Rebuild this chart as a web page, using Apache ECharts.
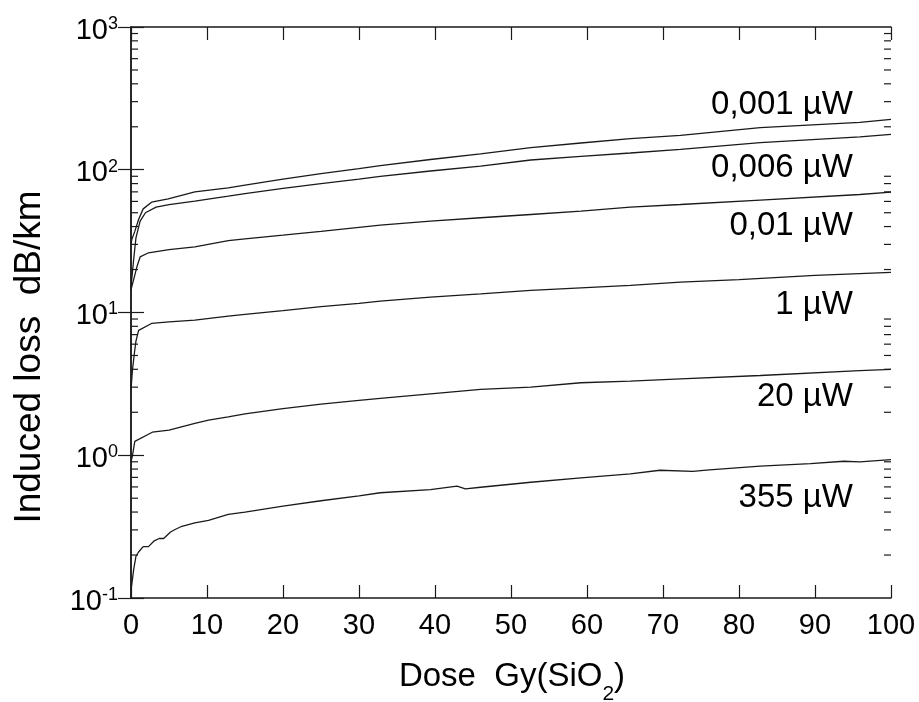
<!DOCTYPE html>
<html>
<head>
<meta charset="utf-8">
<script src="https://cdn.jsdelivr.net/npm/echarts@6/dist/echarts.min.js"></script>
<style>
html,body{margin:0;padding:0;background:#fff;}
#chart{width:919px;height:702px;}
</style>
</head>
<body>
<div id="chart"></div>
<script>
// ---- data (dose in Gy(SiO2), induced loss in dB/km) ----
const seriesNames = ['0,001 µW', '0,006 µW', '0,01 µW', '1 µW', '20 µW', '355 µW'];

const doseA = [0, 0.1, 0.5, 1.0, 1.6, 2.7, 4.9, 8.4, 12.8, 15, 20, 25, 30, 32.8, 39.4, 46, 52.6, 59.2, 65.7, 72.3, 82.8, 95.9, 100];
const lossA = [30, 32.4, 37, 44.8, 53.2, 59.3, 62.5, 70, 74.7, 78, 86, 94, 102, 107, 118, 129, 143, 154, 165, 174, 197, 215, 225];

const doseB = [0, 0.35, 0.65, 1.2, 1.9, 3.3, 5, 8.4, 12.8, 15, 20, 25, 30, 32.8, 39.4, 46, 52.6, 59.2, 65.7, 72.3, 82.8, 95.9, 100];
const lossB = [15, 23.5, 33.3, 43.6, 50, 54.7, 57, 60.3, 65.3, 68, 74, 80, 86, 90, 98, 106, 117, 124, 131, 139, 155, 170, 177];

const doseC = [0, 0.35, 0.8, 1.2, 2.3, 5, 8.4, 12.8, 15, 20, 25, 30, 32.8, 39.4, 46, 52.6, 59.2, 65.7, 72.3, 82.8, 95.9, 100];
const lossC = [14.5, 17, 21.1, 24.5, 26.2, 27.6, 28.8, 31.9, 32.8, 34.8, 37, 39.5, 40.9, 43.6, 46.1, 48.6, 51.3, 54.7, 57.1, 61.2, 67.1, 69.6];

const doseD = [0, 0.2, 0.45, 0.65, 1.0, 2.7, 5, 8.4, 12.8, 15, 20, 25, 30, 32.8, 39.4, 46, 52.6, 59.2, 65.7, 72.3, 80, 90, 100];
const lossD = [2.9, 4.0, 5.2, 6.3, 7.5, 8.38, 8.6, 8.83, 9.42, 9.7, 10.3, 11.0, 11.6, 12.0, 12.8, 13.5, 14.3, 14.9, 15.5, 16.3, 17.0, 18.2, 19.1];

const doseE = [0, 0.2, 0.5, 0.65, 2.8, 5.0, 8.4, 10.2, 12.8, 15, 20, 25, 30, 32.8, 39.4, 46, 52.6, 59.2, 65.7, 72.3, 82.8, 95.9, 100];
const lossE = [0.9, 1.0, 1.25, 1.29, 1.45, 1.50, 1.67, 1.76, 1.86, 1.95, 2.12, 2.28, 2.42, 2.50, 2.69, 2.89, 3.0, 3.22, 3.31, 3.43, 3.62, 3.91, 3.99];

const doseF = [0, 0.1, 0.35, 0.65, 1.0, 1.6, 2.3, 3.0, 3.7, 4.3, 5.2, 5.8, 6.7, 8.4, 10.2, 12.8, 15, 20, 25, 30, 32.8, 39.4, 42.9, 44.0, 46, 52.6, 59.2, 65.7, 69.6, 73.9, 76.1, 82.8, 89.4, 93.8, 95.9, 100];
const lossF = [0.115, 0.124, 0.158, 0.196, 0.21, 0.229, 0.229, 0.25, 0.261, 0.261, 0.29, 0.302, 0.318, 0.336, 0.35, 0.385, 0.40, 0.44, 0.48, 0.52, 0.546, 0.575, 0.607, 0.582, 0.597, 0.647, 0.695, 0.741, 0.785, 0.77, 0.79, 0.838, 0.875, 0.908, 0.9, 0.933];

const doses = [doseA, doseB, doseC, doseD, doseE, doseF];
const losses = [lossA, lossB, lossC, lossD, lossE, lossF];

const xTicks = [0, 10, 20, 30, 40, 50, 60, 70, 80, 90, 100];
const yMinorTicks = [0.2,0.3,0.4,0.5,0.6,0.7,0.8,0.9, 2,3,4,5,6,7,8,9, 20,30,40,50,60,70,80,90, 200,300,400,500,600,700,800,900];

// label anchor rows (pixel centers of the curve labels)
const labelY = [105, 168, 226, 305, 397, 498];

const FONT = '"Liberation Sans", Arial, Helvetica, sans-serif';
const INK = '#1a1a1a';

const chart = echarts.init(document.getElementById('chart'), null, {renderer: 'canvas'});

const lineSeries = doses.map((d, i) => ({
  name: seriesNames[i],
  type: 'line',
  xAxisIndex: 0,
  yAxisIndex: 0,
  data: d.map((x, j) => [x, losses[i][j]]),
  showSymbol: false,
  symbol: 'none',
  smooth: false,
  lineStyle: {color: INK, width: 1.3},
  silent: true,
  animation: false,
  z: 3
}));

const minorSeries = {
  type: 'custom',
  xAxisIndex: 0,
  yAxisIndex: 0,
  silent: true,
  animation: false,
  clip: false,
  data: yMinorTicks.map(v => [0, v]),
  renderItem: function (params, api) {
    const p = api.coord([0, api.value(1)]);
    const cs = params.coordSys;
    const st = {stroke: INK, lineWidth: 1.2};
    return {
      type: 'group',
      children: [
        {type: 'line', shape: {x1: cs.x, y1: p[1], x2: cs.x + 7, y2: p[1]}, style: st},
        {type: 'line', shape: {x1: cs.x + cs.width, y1: p[1], x2: cs.x + cs.width - 7, y2: p[1]}, style: st}
      ]
    };
  },
  z: 4
};

const axisLineStyle = {show: true, lineStyle: {color: INK, width: 1.5}};

const option = {
  animation: false,
  backgroundColor: '#ffffff',
  grid: {left: 131, right: 28, top: 27, bottom: 104, containLabel: false},
  xAxis: [
    {
      type: 'value', min: 0, max: 100, interval: 10, position: 'bottom',
      axisLine: axisLineStyle,
      axisTick: {show: true, inside: true, length: 13, lineStyle: {color: INK, width: 1.2}},
      axisLabel: {show: true, fontSize: 29, fontFamily: FONT, color: '#000', margin: 13,
        formatter: v => xTicks.indexOf(v) >= 0 ? String(v) : ''},
      splitLine: {show: false}
    },
    {
      type: 'value', min: 0, max: 100, interval: 10, position: 'top',
      axisLine: axisLineStyle,
      axisTick: {show: true, inside: true, length: 13, lineStyle: {color: INK, width: 1.2}},
      axisLabel: {show: false},
      splitLine: {show: false}
    }
  ],
  yAxis: [
    {
      type: 'log', logBase: 10, min: 0.1, max: 1000, position: 'left',
      axisLine: axisLineStyle,
      axisTick: {show: true, inside: true, length: 13, lineStyle: {color: INK, width: 1.2}},
      axisLabel: {
        show: true, margin: 13, color: '#000', padding: [6, 0, 0, 0],
        formatter: function (v) {
          const e = Math.round(Math.log10(v));
          return '{b|10}{s|' + e + '}';
        },
        rich: {
          b: {fontSize: 29, fontFamily: FONT, color: '#000', lineHeight: 30, verticalAlign: 'bottom'},
          s: {fontSize: 18, fontFamily: FONT, color: '#000', lineHeight: 18, verticalAlign: 'top'}
        }
      },
      splitLine: {show: false},
      minorTick: {show: false}
    },
    {
      type: 'log', logBase: 10, min: 0.1, max: 1000, position: 'right',
      axisLine: axisLineStyle,
      axisTick: {show: true, inside: true, length: 13, lineStyle: {color: INK, width: 1.2}},
      axisLabel: {show: false},
      splitLine: {show: false}
    }
  ],
  series: lineSeries.concat([minorSeries]),
  graphic: [
    {
      type: 'text', x: 30, y: 357, rotation: Math.PI / 2, silent: true,
      style: {text: 'Induced loss  dB/km', font: '37px ' + FONT, fill: '#000',
        align: 'center', verticalAlign: 'middle'}
    },
    {
      type: 'text', x: 512, y: 678, silent: true,
      style: {
        text: '{a|Dose  Gy(SiO}{b|2}{a|)}',
        align: 'center', verticalAlign: 'middle',
        rich: {
          a: {fontSize: 33, fontFamily: FONT, fill: '#000', color: '#000', lineHeight: 36, verticalAlign: 'top'},
          b: {fontSize: 21, fontFamily: FONT, fill: '#000', color: '#000', lineHeight: 21, verticalAlign: 'top', padding: [24, 0, 0, 0]}
        }
      }
    }
  ].concat(seriesNames.map((n, i) => ({
    type: 'text', x: 853, y: labelY[i], silent: true,
    style: {text: n, font: '33px ' + FONT, fill: '#000', align: 'right', verticalAlign: 'middle'}
  })))
};

chart.setOption(option);
</script>
</body>
</html>
